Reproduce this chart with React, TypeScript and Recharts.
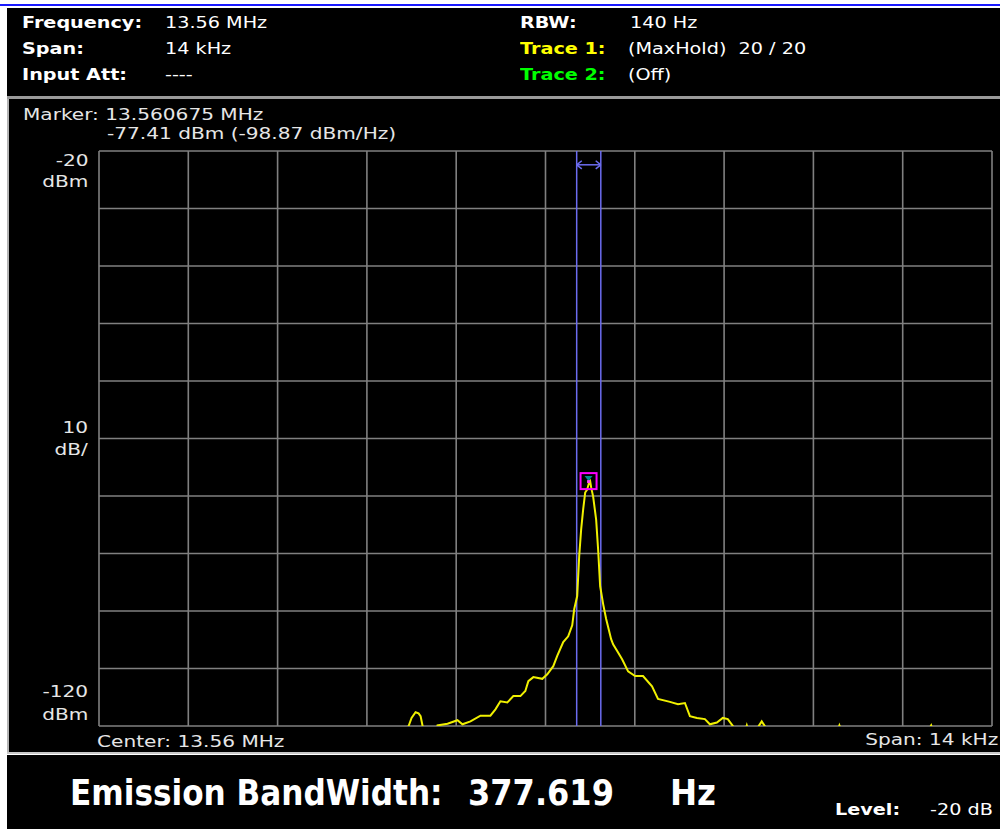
import React from 'react';
import {
  LineChart,
  Line,
  XAxis,
  YAxis,
  CartesianGrid,
  ReferenceLine,
  ReferenceDot,
} from 'recharts';

// frequency offset from 13.56 MHz centre, in Hz
const freqOffsets = [
  -7000, -4000, -2300, -2146, -2100, -2037, -1990, -1958, -1927, -1896, -1724, -1693, -1536,
  -1380, -1302, -1176, -1020, -864, -785, -707, -598, -504, -394, -316, -269, -191, -50, 28,
  122, 184, 278, 356, 419, 450, 497, 528, 559, 591, 622, 653, 685, 700, 716, 747, 794, 825, 857,
  904, 951, 1029, 1060, 1138, 1201, 1295, 1404, 1529, 1670, 1764, 1951, 2077, 2186, 2264, 2374,
  2499, 2577, 2687, 2780, 2858, 2937, 2984, 3124, 3156, 3187, 3281, 3343, 3390, 3437, 3515, 4530,
  4608, 4686, 5937, 6046, 6140, 7000,
];

// trace 1 (max hold), dBm
const traceLevels = [
  -126, -125, -123, -120.0, -118.6, -117.6, -117.8, -118.3, -120.0, -123.5, -122, -119.9, -119.6,
  -119.0, -119.7, -119.2, -118.2, -118.2, -117.1, -115.7, -115.9, -114.8, -114.8, -113.9, -112.2,
  -111.5, -111.8, -111.0, -109.6, -107.8, -105.4, -104.4, -102.5, -99.7, -97.4, -90.5, -85.8,
  -82.3, -79.4, -78.9, -77.6, -77.41, -78.5, -80.1, -84.1, -89.3, -95.7, -98.8, -101.4, -104.9,
  -105.8, -107.2, -108.4, -110.5, -111.3, -111.3, -113.1, -115.3, -115.8, -116.2, -116.0, -118.3,
  -118.6, -118.8, -119.7, -119.4, -118.6, -118.8, -120.0, -123, -121, -119.9, -121, -123, -120.0,
  -119.2, -120.0, -124, -122.5, -119.9, -122, -122, -119.9, -123, -126,
];

const xTicks = [-7000, -5600, -4200, -2800, -1400, 0, 1400, 2800, 4200, 5600, 7000];
const yTicks = [-120, -110, -100, -90, -80, -70, -60, -50, -40, -30, -20];

const obwLow = 489;
const obwHigh = 867;
const markerFreq = 675;
const markerLevel = -77.41;
const arrowLevel = -22.4;

const data = freqOffsets.map((f, i) => ({ f, v: traceLevels[i] }));

const FONT = '"DejaVu Sans", Verdana, sans-serif';

type TxtProps = {
  x: number;
  cy: number;
  size?: number;
  bold?: boolean;
  color?: string;
  sx?: number;
  end?: boolean;
  children: React.ReactNode;
};

const Txt = ({ x, cy, size = 15, bold, color = '#ffffff', sx = 1.28, end, children }: TxtProps) => (
  <div
    style={{
      position: 'absolute',
      left: end ? undefined : x,
      right: end ? 1000 - x : undefined,
      top: cy - 0.49 * size,
      fontSize: size,
      lineHeight: `${size}px`,
      fontFamily: FONT,
      fontWeight: bold ? 700 : 400,
      color,
      whiteSpace: 'pre',
      transform: `scaleX(${sx})`,
      transformOrigin: end ? 'right center' : 'left center',
    }}
  >
    {children}
  </div>
);

const MarkerShape = (props: any) => {
  const { cx, cy } = props;
  return (
    <g>
      <rect x={cx - 8} y={cy - 8} width={16} height={16} fill="none" stroke="#ff00ff" strokeWidth={2} />
      <polygon points={`${cx - 4},${cy - 5} ${cx + 4},${cy - 5} ${cx},${cy}`} fill="#009090" />
      <rect x={cx - 1.5} y={cy - 1} width={3} height={3} fill="#ff40ff" />
    </g>
  );
};

const blue = '#6c6cf0';
const gridGray = '#808080';
const panelText = '#e6e6e6';
const PS = 15; // panel text size
const PX = 1.34; // panel text stretch

export default function App() {
  return (
    <div
      style={{
        position: 'absolute',
        left: 0,
        top: 0,
        width: 1000,
        height: 829,
        background: '#ffffff',
        overflow: 'hidden',
      }}
    >
      {/* top blue rule */}
      <div style={{ position: 'absolute', left: 0, top: 4, width: 1000, height: 2, background: '#1a1aff' }} />

      {/* header block */}
      <div style={{ position: 'absolute', left: 7, top: 8, width: 993, height: 89, background: '#000' }} />
      <div style={{ position: 'absolute', left: 7, top: 96, width: 993, height: 3, background: '#9a9a9a' }} />
      <Txt x={22} cy={23} bold>Frequency:</Txt>
      <Txt x={165} cy={23}>13.56 MHz</Txt>
      <Txt x={22} cy={49} bold>Span:</Txt>
      <Txt x={165} cy={49}>14 kHz</Txt>
      <Txt x={22} cy={75} bold>Input Att:</Txt>
      <Txt x={165} cy={75}>----</Txt>
      <Txt x={520} cy={23} bold>RBW:</Txt>
      <Txt x={630} cy={23}>140 Hz</Txt>
      <Txt x={520} cy={49} bold color="#ffff00">Trace 1:</Txt>
      <Txt x={628} cy={49}>(MaxHold)  20 / 20</Txt>
      <Txt x={520} cy={75} bold color="#00ff00">Trace 2:</Txt>
      <Txt x={628} cy={75}>(Off)</Txt>

      {/* display panel */}
      <div
        style={{
          position: 'absolute',
          left: 7,
          top: 99,
          width: 993,
          height: 654,
          background: '#000',
          borderLeft: '2px solid #b4b4b4',
          boxSizing: 'border-box',
        }}
      />
      <div style={{ position: 'absolute', left: 7, top: 752, width: 993, height: 2, background: '#c8c8c8' }} />
      <Txt x={23} cy={115} size={PS} sx={PX} color={panelText}>Marker: 13.560675 MHz</Txt>
      <Txt x={107} cy={134} size={PS} sx={PX} color={panelText}>-77.41 dBm (-98.87 dBm/Hz)</Txt>
      <Txt x={88} cy={161} size={PS} sx={PX} color={panelText} end>-20</Txt>
      <Txt x={88} cy={182} size={PS} sx={PX} color={panelText} end>dBm</Txt>
      <Txt x={88} cy={428} size={PS} sx={PX} color={panelText} end>10</Txt>
      <Txt x={88} cy={450} size={PS} sx={PX} color={panelText} end>dB/</Txt>
      <Txt x={88} cy={692} size={PS} sx={PX} color={panelText} end>-120</Txt>
      <Txt x={88} cy={715} size={PS} sx={PX} color={panelText} end>dBm</Txt>
      <Txt x={97} cy={742} size={PS} sx={PX} color={panelText}>Center: 13.56 MHz</Txt>
      <Txt x={998} cy={740} size={PS} sx={PX} color={panelText} end>Span: 14 kHz</Txt>

      <div style={{ position: 'absolute', left: 97, top: 149 }}>
        <LineChart width={897} height={579} data={data} margin={{ top: 2, right: 2, bottom: 2, left: 2 }}>
          <CartesianGrid stroke={gridGray} strokeWidth={1.6} />
          <XAxis type="number" dataKey="f" domain={[-7000, 7000]} ticks={xTicks} hide allowDataOverflow />
          <YAxis type="number" domain={[-120, -20]} ticks={yTicks} hide allowDataOverflow />
          <ReferenceLine x={obwLow} stroke={blue} strokeWidth={1.5} />
          <ReferenceLine x={obwHigh} stroke={blue} strokeWidth={1.5} />
          <ReferenceLine segment={[{ x: obwLow, y: arrowLevel }, { x: obwHigh, y: arrowLevel }]} stroke={blue} strokeWidth={1.5} />
          <ReferenceLine segment={[{ x: obwLow, y: arrowLevel }, { x: obwLow + 80, y: arrowLevel + 0.7 }]} stroke={blue} strokeWidth={1.5} />
          <ReferenceLine segment={[{ x: obwLow, y: arrowLevel }, { x: obwLow + 80, y: arrowLevel - 0.7 }]} stroke={blue} strokeWidth={1.5} />
          <ReferenceLine segment={[{ x: obwHigh, y: arrowLevel }, { x: obwHigh - 80, y: arrowLevel + 0.7 }]} stroke={blue} strokeWidth={1.5} />
          <ReferenceLine segment={[{ x: obwHigh, y: arrowLevel }, { x: obwHigh - 80, y: arrowLevel - 0.7 }]} stroke={blue} strokeWidth={1.5} />
          <Line
            type="linear"
            dataKey="v"
            stroke="#f0f000"
            strokeWidth={2}
            dot={false}
            isAnimationActive={false}
          />
          <ReferenceDot x={markerFreq} y={markerLevel} shape={MarkerShape} />
        </LineChart>
      </div>

      {/* result block */}
      <div style={{ position: 'absolute', left: 7, top: 755, width: 993, height: 74, background: '#000' }} />
      <Txt x={70} cy={793} size={36} bold sx={0.865}>Emission BandWidth:</Txt>
      <Txt x={468} cy={793} size={36} bold sx={0.89}>377.619</Txt>
      <Txt x={670} cy={793} size={36} bold sx={0.9}>Hz</Txt>
      <Txt x={835} cy={810} size={15} bold>Level:</Txt>
      <Txt x={930} cy={810} size={15}>-20 dB</Txt>
    </div>
  );
}
